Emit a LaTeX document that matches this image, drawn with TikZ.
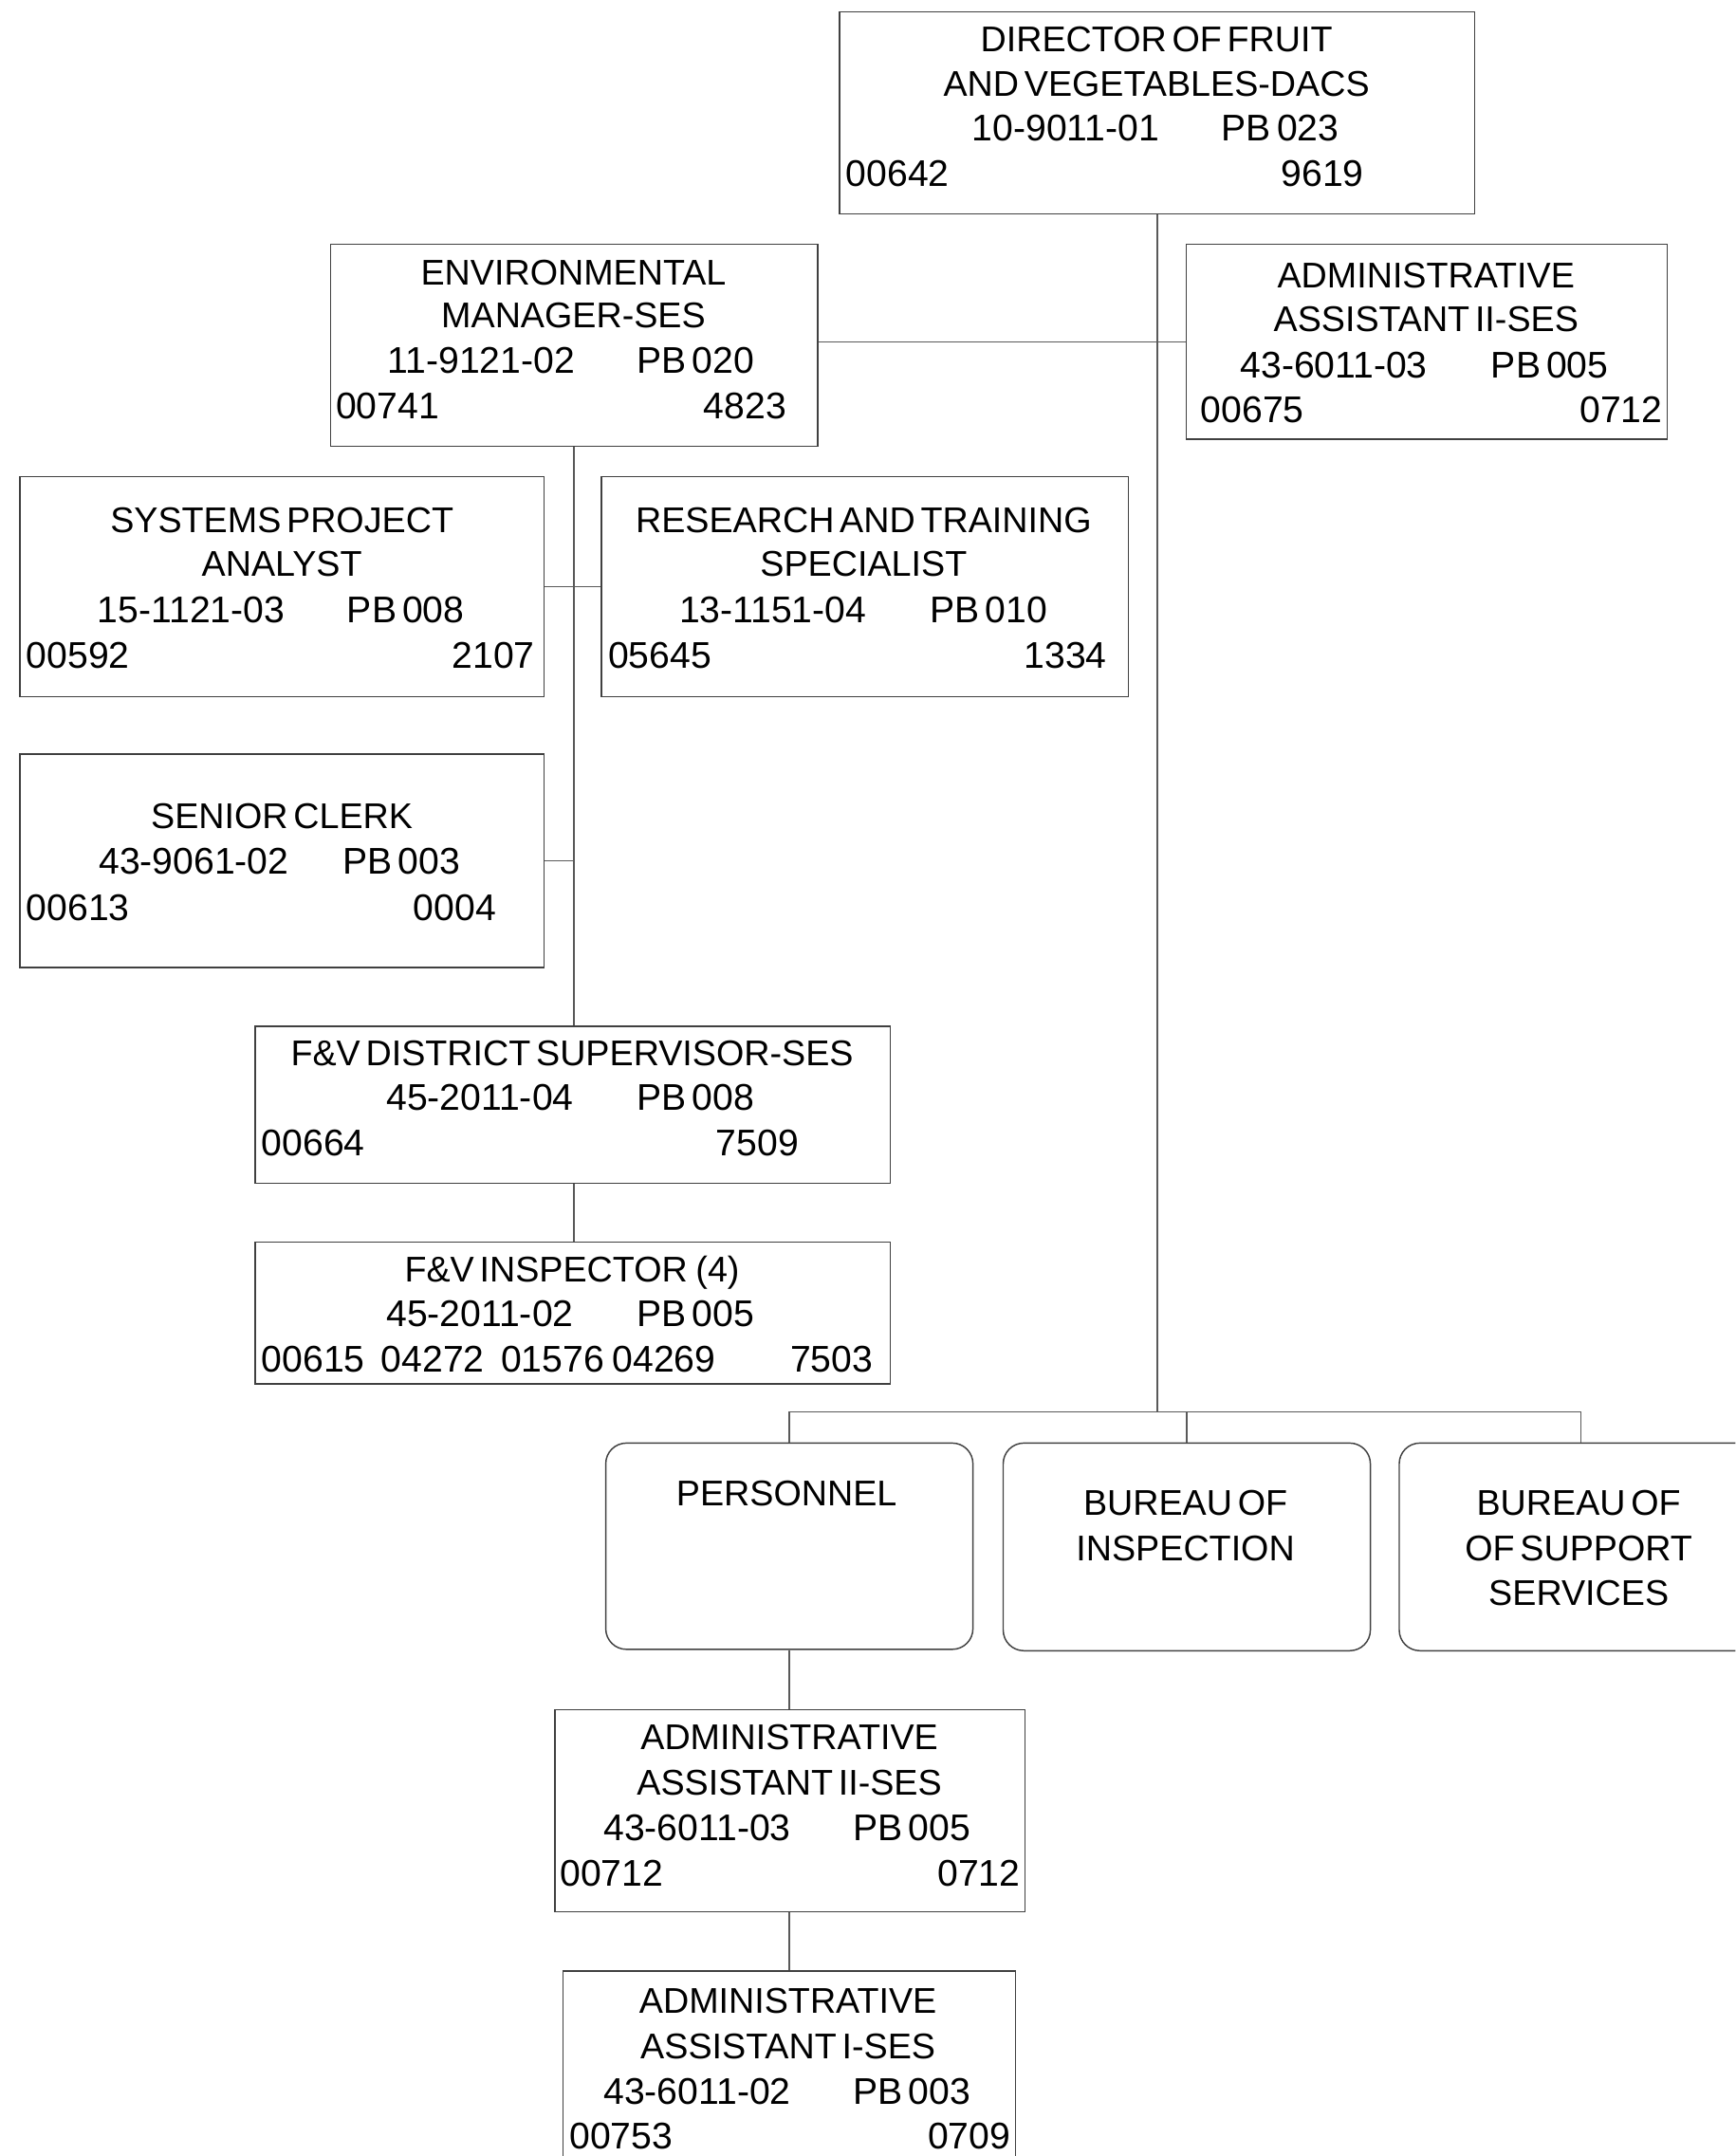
\documentclass[tikz,border=0pt]{standalone}
\usepackage{fontspec}
\setmainfont{Liberation Sans}[WordSpace=0.55]
\begin{document}
\begin{tikzpicture}[x=1pt,y=-1pt,
  box/.style={draw=black!75,line width=1pt,inner sep=0pt,anchor=north west},
  rbox/.style={box,rounded corners=15pt},
  link/.style={draw=black!65,line width=1pt},
  txt/.style={inner sep=0pt,font=\fontsize{26}{32.7}\selectfont,yshift=-9.3pt},
  num/.style={font=\fontsize{27}{32.7}\selectfont,yshift=-0.35pt},
  lbl/.style={txt,anchor=base},
  lblw/.style={txt,num,anchor=base west},
  lble/.style={txt,num,anchor=base east},
  lbln/.style={txt,num,anchor=base}]
\useasboundingbox (0,0) rectangle (1262,1568);
\clip (0,0) rectangle (1262,1568);

% ---- boxes ----
\node[box,minimum width=462pt,minimum height=147pt] (dir) at (610,8) {};
\node[box,minimum width=354pt,minimum height=147pt] (envm) at (240,177) {};
\node[box,minimum width=350pt,minimum height=142pt] (aat) at (862,177) {};
\node[box,minimum width=381pt,minimum height=160pt] (spa) at (14,346) {};
\node[box,minimum width=383pt,minimum height=160pt] (rt) at (437,346) {};
\node[box,minimum width=381pt,minimum height=155pt] (sc) at (14,548) {};
\node[box,minimum width=462pt,minimum height=114pt] (fvs) at (185,746) {};
\node[box,minimum width=462pt,minimum height=103pt] (fvi) at (185,903) {};
\node[rbox,minimum width=267pt,minimum height=150pt] (per) at (440,1049) {};
\node[rbox,minimum width=267pt,minimum height=151pt] (ins) at (729,1049) {};
\node[rbox,minimum width=264pt,minimum height=151pt] (sup) at (1017,1049) {};
\node[box,minimum width=342pt,minimum height=147pt] (aab) at (403,1243) {};
\node[box,minimum width=329pt,minimum height=150pt] (aai) at (409,1433) {};

% ---- director ----
\node[lbl] (dir1) at (841,28) {DIRECTOR OF FRUIT};
\node[lbl] (dir2) at (841,61) {AND VEGETABLES-DACS};
\node[lbln] (dir3) at (775,93) {10-9011-01};
\node[lbln] (dir4) at (931,93) {PB 023};
\node[lblw] (dir5) at (615,126) {00642};
\node[lble] (dir6) at (992,126) {9619};

% ---- environmental manager ----
\node[lbl] (envm1) at (417,198) {ENVIRONMENTAL};
\node[lbl] (envm2) at (417,229) {MANAGER-SES};
\node[lbln] (envm3) at (350,262) {11-9121-02};
\node[lbln] (envm4) at (506,262) {PB 020};
\node[lblw] (envm5) at (244,295) {00741};
\node[lble] (envm6) at (572,295) {4823};

% ---- administrative assistant (top) ----
\node[lbl] (aat1) at (1037,200) {ADMINISTRATIVE};
\node[lbl] (aat2) at (1037,232) {ASSISTANT II-SES};
\node[lbln] (aat3) at (970,265) {43-6011-03};
\node[lbln] (aat4) at (1127,265) {PB 005};
\node[lblw] (aat5) at (873,298) {00675};
\node[lble] (aat6) at (1209,298) {0712};

% ---- systems project analyst ----
\node[lbl] (spa1) at (205,378) {SYSTEMS PROJECT};
\node[lbl] (spa2) at (205,410) {ANALYST};
\node[lbln] (spa3) at (139,443) {15-1121-03};
\node[lbln] (spa4) at (295,443) {PB 008};
\node[lblw] (spa5) at (19,476) {00592};
\node[lble] (spa6) at (389,476) {2107};

% ---- research and training specialist ----
\node[lbl] (rt1) at (628,378) {RESEARCH AND TRAINING};
\node[lbl] (rt2) at (628,410) {SPECIALIST};
\node[lbln] (rt3) at (562,443) {13-1151-04};
\node[lbln] (rt4) at (719,443) {PB 010};
\node[lblw] (rt5) at (442,476) {05645};
\node[lble] (rt6) at (805,476) {1334};

% ---- senior clerk ----
\node[lbl] (sc1) at (205,593) {SENIOR CLERK};
\node[lbln] (sc2) at (141,626) {43-9061-02};
\node[lbln] (sc3) at (292,626) {PB 003};
\node[lblw] (sc4) at (19,660) {00613};
\node[lble] (sc5) at (361,660) {0004};

% ---- district supervisor ----
\node[lbl] (fvs1) at (416,766) {F\&V DISTRICT SUPERVISOR-SES};
\node[lbln] (fvs2) at (349,798) {45-2011-04};
\node[lbln] (fvs3) at (506,798) {PB 008};
\node[lblw] (fvs4) at (190,831) {00664};
\node[lble] (fvs5) at (581,831) {7509};

% ---- inspectors ----
\node[lbl] (fvi1) at (416,923) {F\&V INSPECTOR\hspace{6pt}(4)};
\node[lbln] (fvi2) at (349,955) {45-2011-02};
\node[lbln] (fvi3) at (506,955) {PB 005};
\node[lblw] (fvi4) at (190,988) {00615\hspace{12pt}04272\hspace{12pt}01576\hspace{6pt}04269};
\node[lble] (fvi5) at (635,988) {7503};

% ---- bureaus ----
\node[lbl] (per1) at (572,1086) {PERSONNEL};
\node[lbl] (ins1) at (862,1093) {BUREAU OF};
\node[lbl] (ins2) at (862,1126) {INSPECTION};
\node[lbl] (sup1) at (1148,1093) {BUREAU OF};
\node[lbl] (sup2) at (1148,1126) {OF SUPPORT};
\node[lbl] (sup3) at (1148,1158) {SERVICES};

% ---- administrative assistant II (bottom) ----
\node[lbl] (aab1) at (574,1263) {ADMINISTRATIVE};
\node[lbl] (aab2) at (574,1296) {ASSISTANT II-SES};
\node[lbln] (aab3) at (507,1329) {43-6011-03};
\node[lbln] (aab4) at (663,1329) {PB 005};
\node[lblw] (aab5) at (407,1362) {00712};
\node[lble] (aab6) at (742,1362) {0712};

% ---- administrative assistant I ----
\node[lbl] (aai1) at (573,1455) {ADMINISTRATIVE};
\node[lbl] (aai2) at (573,1488) {ASSISTANT I-SES};
\node[lbln] (aai3) at (507,1521) {43-6011-02};
\node[lbln] (aai4) at (663,1521) {PB 003};
\node[lblw] (aai5) at (414,1553) {00753};
\node[lble] (aai6) at (735,1553) {0709};

% ---- connectors ----
\coordinate (bus) at (0,1027);
\draw[link] (dir.south) -- (dir.south |- bus);
\draw[link] (envm.east |- aat.west) -- (aat.west);
\draw[link] (envm.south) -- (envm.south |- fvs.north);
\draw[link] (spa.east) -- (rt.west);
\draw[link] (sc.east) -- (sc.east -| envm.south);
\draw[link] (fvs.south -| envm.south) -- (fvi.north -| envm.south);
\draw[link] (per.north) -- (per.north |- bus) -- (sup.north |- bus) -- (sup.north);
\draw[link] (ins.north) -- (ins.north |- bus);
\draw[link] (per.south) -- (per.south |- aab.north);
\draw[link] (aab.south -| per.south) -- (aai.north -| per.south);
\end{tikzpicture}
\end{document}
